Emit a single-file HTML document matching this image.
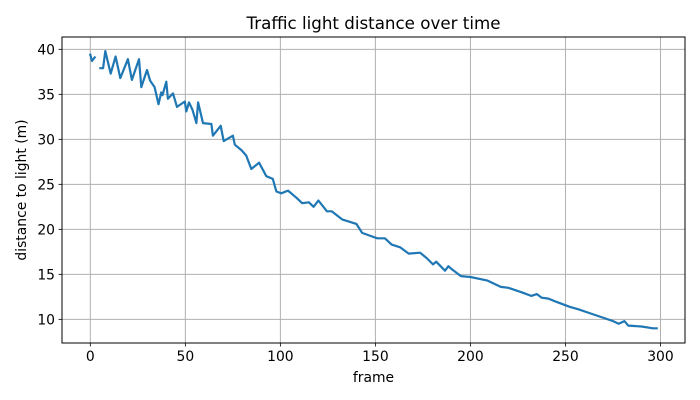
<!DOCTYPE html>
<html><head><meta charset="utf-8"><style>
body{margin:0;background:#fff}
svg{display:block;font-family:"DejaVu Sans","Liberation Sans",sans-serif}
</style></head><body>
<svg id="chart" width="700" height="400">
<rect width="700" height="400" fill="#fff"/>
<text x="373.5" y="29" text-anchor="middle" font-size="16.7" fill="#000">Traffic light distance over time</text>
<text x="373.5" y="382" text-anchor="middle" font-size="13.9" fill="#000">frame</text>
<text transform="translate(26,190) rotate(-90)" text-anchor="middle" font-size="13.9" fill="#000">distance to light (m)</text>
<g id="grid"></g>
<g id="series"></g>
<rect x="62" y="37" width="623" height="306" fill="none" stroke="#000" stroke-width="1"/>
<g id="ticks"></g>
</svg>
<script>
const frames = [0,0.9,2.3,null,5.3,6.7,7.9,10.7,13.3,15.8,19.8,21.9,25.6,26.8,29.8,31.5,33.8,35.9,37.3,38,40,40.8,43.5,45.6,49.7,50.5,51.9,53.7,55.8,56.7,59.3,63.7,64.5,68.6,70.2,75,76,79.5,82,84.7,88.8,92.6,96,97.9,100.5,104,108.5,111.5,115,117.5,120,124.5,127,132.5,140,143,147,151,155,158.5,163,167.5,173.5,177,180.3,182,186.6,188.4,190,195,200,209,216,220,227,232,235,237.5,241,244.5,252,257,262.5,269.5,275,278,281,283,290,296,298];
const distances = [39.4,38.7,39.1,null,37.9,37.9,39.8,37.3,39.2,36.8,38.9,36.6,38.9,35.8,37.7,36.5,35.8,33.9,35.2,34.9,36.4,34.5,35.1,33.6,34.2,33.1,34.1,33.3,31.8,34.1,31.8,31.7,30.4,31.5,29.8,30.4,29.4,28.8,28.2,26.7,27.4,25.9,25.6,24.2,24.0,24.3,23.5,22.9,23.0,22.5,23.2,22.0,22.0,21.1,20.6,19.6,19.3,19.0,19.0,18.3,18.0,17.3,17.4,16.8,16.1,16.4,15.4,15.9,15.6,14.8,14.7,14.3,13.6,13.5,13.0,12.6,12.8,12.4,12.3,12.0,11.4,11.1,10.7,10.2,9.8,9.5,9.8,9.3,9.2,9.0,9.0];
const xTicks = [0,50,100,150,200,250,300];
const yTicks = [10,15,20,25,30,35,40];
const L=62,R=685,T=37,B=343, xMin=-14.9, xMax=312.9, yMin=7.37, yMax=41.37;
const sx = v => L + (v - xMin) / (xMax - xMin) * (R - L);
const sy = v => B - (v - yMin) / (yMax - yMin) * (B - T);
const NS = "http://www.w3.org/2000/svg";
const grid = document.getElementById('grid'), ticks = document.getElementById('ticks'), series = document.getElementById('series');
function mk(tag, attrs, parent){const e=document.createElementNS(NS,tag);for(const k in attrs)e.setAttribute(k,attrs[k]);parent.appendChild(e);return e;}
xTicks.forEach(t=>{
  const x=sx(t);
  const g=mk('line',{x1:x,x2:x,y1:T,y2:B,stroke:'#b0b0b0','stroke-width':1},grid);
  
  
  const tk=mk('line',{x1:x,x2:x,y1:B,y2:B+3.5,stroke:'#000','stroke-width':0.8},ticks);
  
  
  const lb=mk('text',{x:x,y:B+18,'text-anchor':'middle','font-size':13.9,fill:'#000'},ticks);
  lb.textContent=t;
  
  
});
yTicks.forEach(t=>{
  const y=sy(t);
  const g=mk('line',{x1:L,x2:R,y1:y,y2:y,stroke:'#b0b0b0','stroke-width':1},grid);
  
  
  const tk=mk('line',{x1:L-3.5,x2:L,y1:y,y2:y,stroke:'#000','stroke-width':0.8},ticks);
  
  
  const lb=mk('text',{x:L-7,y:y+5,'text-anchor':'end','font-size':13.9,fill:'#000'},ticks);
  lb.textContent=t;
  
  
});
let d='', pen=false;
frames.forEach((f,i)=>{
  const v=distances[i];
  if(f===null||v===null){pen=false;return;}
  d+=(pen?'L':'M')+sx(f).toFixed(1)+' '+sy(v).toFixed(1)+' ';
  pen=true;
});
const line=mk('path',{d:d,fill:'none',stroke:'#1f77b4','stroke-width':2.2,'stroke-linejoin':'round','stroke-linecap':'square'},series);


</script>
</body></html>
